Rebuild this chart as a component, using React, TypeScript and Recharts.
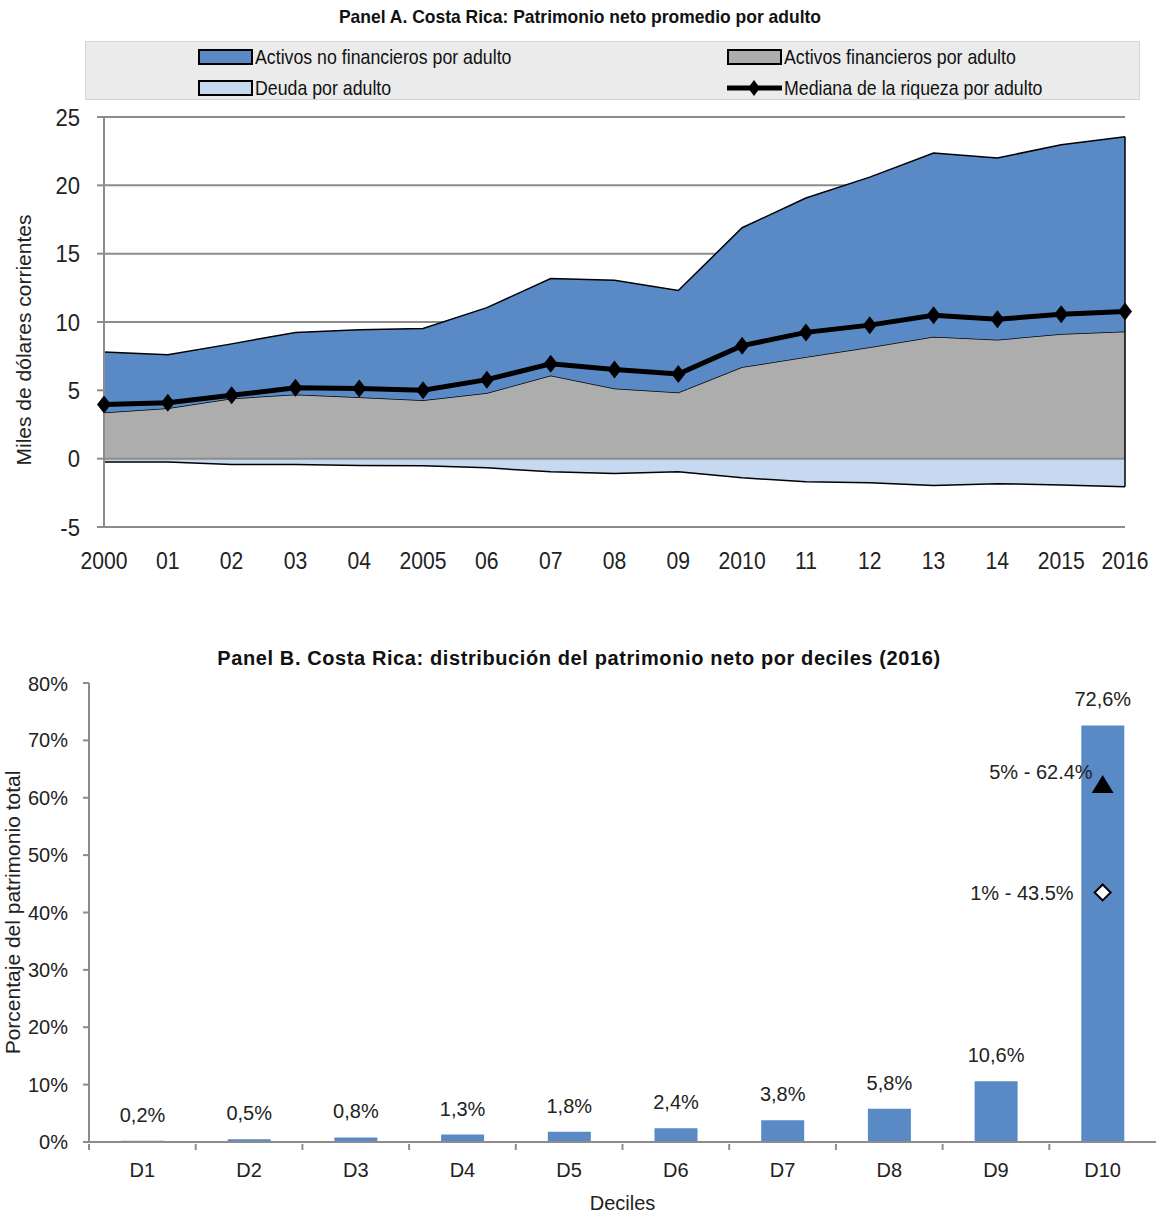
import React from "react";
import {
  ComposedChart,
  Area,
  Line,
  Bar,
  XAxis,
  YAxis,
  CartesianGrid,
  ReferenceLine,
  ReferenceDot,
  LabelList,
} from "recharts";

// Panel A: average net worth per adult (thousands of current USD)
const anios = ["2000", "01", "02", "03", "04", "2005", "06", "07", "08", "09", "2010", "11", "12", "13", "14", "2015", "2016"];
const activosFinancieros = [3.37, 3.68, 4.4, 4.7, 4.5, 4.28, 4.8, 6.09, 5.13, 4.84, 6.7, 7.43, 8.15, 8.92, 8.7, 9.12, 9.31];
const activosNoFinancieros = [4.43, 3.92, 4.0, 4.54, 4.93, 5.25, 6.25, 7.09, 7.92, 7.46, 10.2, 11.64, 12.45, 13.44, 13.3, 13.85, 14.24];
const deuda = [-0.24, -0.25, -0.43, -0.43, -0.5, -0.52, -0.67, -0.96, -1.09, -0.96, -1.4, -1.69, -1.76, -1.96, -1.83, -1.93, -2.05];
const mediana = [3.97, 4.1, 4.64, 5.18, 5.13, 5.0, 5.78, 6.94, 6.53, 6.2, 8.27, 9.24, 9.77, 10.5, 10.2, 10.56, 10.76];
const ticksA = [-5, 0, 5, 10, 15, 20, 25];

// Panel B: share of total net worth by decile, 2016
const deciles = ["D1", "D2", "D3", "D4", "D5", "D6", "D7", "D8", "D9", "D10"];
const participacion = [0.2, 0.5, 0.8, 1.3, 1.8, 2.4, 3.8, 5.8, 10.6, 72.6];
const etiquetas = ["0,2%", "0,5%", "0,8%", "1,3%", "1,8%", "2,4%", "3,8%", "5,8%", "10,6%", "72,6%"];
const topes = [
  { grupo: "5%", valor: 62.4, texto: "5% - 62.4%", forma: "triangulo" },
  { grupo: "1%", valor: 43.5, texto: "1% - 43.5%", forma: "rombo" },
];
const ticksB = [0, 10, 20, 30, 40, 50, 60, 70, 80];

const AZUL = "#5a8ac6";
const GRIS = "#adadad";
const CELESTE = "#c6d9f0";
const LINEA = "#8c8c8c";
const TEXTO = "#222";
const SANS = "'Liberation Sans', Arial, sans-serif";

const dataA = anios.map((anio, i) => ({
  anio,
  fin: activosFinancieros[i],
  nofin: activosNoFinancieros[i],
  deuda: deuda[i],
  mediana: mediana[i],
}));
const ultimo = dataA.length - 1;

const dataB = deciles.map((d, i) => ({ decil: d, valor: participacion[i], etiqueta: etiquetas[i] }));

const Rombo = (props: any) => {
  const { cx, cy, index } = props;
  if (cx == null || cy == null) return <g key={`r-${index}`} />;
  return <path key={`r-${index}`} d={`M${cx},${cy - 9} L${cx + 7},${cy} L${cx},${cy + 9} L${cx - 7},${cy} Z`} fill="#000" />;
};

// condensed text: the chart's lettering is narrower than plain Arial
const Angosto = ({ x, y, anchor, dy, size, children }: any) => (
  <text transform={`translate(${x},${y}) scale(0.92,1)`} textAnchor={anchor} dy={dy} fontFamily={SANS} fontSize={size} fill={TEXTO}>
    {children}
  </text>
);

const TickAnio = (props: any) => (
  <Angosto x={props.x} y={props.y} anchor="middle" dy="0.71em" size={23}>
    {props.payload.value}
  </Angosto>
);

const TickMiles = (props: any) => (
  <Angosto x={props.x} y={props.y} anchor="end" dy="0.355em" size={24}>
    {props.payload.value}
  </Angosto>
);

const Swatch = ({ color }: { color: string }) => (
  <span style={{ display: "inline-block", width: 51, height: 12, background: color, border: "2px solid #000", boxSizing: "content-box", marginRight: 2 }} />
);

const LeyendaItem = ({ left, top, children, text }: any) => (
  <div style={{ position: "absolute", left, top, height: 18, display: "flex", alignItems: "center", fontFamily: SANS, fontSize: 21, color: "#111", whiteSpace: "nowrap" }}>
    {children}
    <span style={{ display: "inline-block", transform: "scaleX(0.845)", transformOrigin: "left center" }}>{text}</span>
  </div>
);

const TickDecil = (props: any) => {
  const { x, y, payload } = props;
  const banda = 106.7;
  return (
    <g>
      <line x1={x - banda / 2} y1={y - 6} x2={x - banda / 2} y2={y} stroke={LINEA} strokeWidth={2} />
      <text x={x} y={y + 13} dy="0.71em" textAnchor="middle" fontFamily={SANS} fontSize={20} fill={TEXTO}>
        {payload.value}
      </text>
    </g>
  );
};

const MarcaTope = (tope: (typeof topes)[number]) => (props: any) => {
  const { cx, cy } = props;
  const marca =
    tope.forma === "triangulo" ? (
      <path d={`M${cx},${cy - 9} L${cx + 11},${cy + 9} L${cx - 11},${cy + 9} Z`} fill="#000" />
    ) : (
      <path d={`M${cx},${cy - 8} L${cx + 8},${cy} L${cx},${cy + 8} L${cx - 8},${cy} Z`} fill="#fff" stroke="#000" strokeWidth={2} />
    );
  const tx = tope.forma === "triangulo" ? cx - 10 : cx - 29;
  const ty = tope.forma === "triangulo" ? cy - 12 : cy;
  return (
    <g>
      {marca}
      <text x={tx} y={ty} dy="0.36em" textAnchor="end" fontFamily={SANS} fontSize={20} fill={TEXTO}>
        {tope.texto}
      </text>
    </g>
  );
};

export default function App() {
  return (
    <div style={{ position: "absolute", left: 0, top: 0, width: 1156, height: 1215, background: "#fff" }}>
      {/* Panel A */}
      <div style={{ position: "absolute", left: 0, top: 6, width: 1160, textAlign: "center", fontFamily: SANS, fontWeight: 700, fontSize: 19, color: "#111" }}>
        <span style={{ display: "inline-block", transform: "scaleX(0.92)" }}>Panel A. Costa Rica: Patrimonio neto promedio por adulto</span>
      </div>
      <div style={{ position: "absolute", left: 85, top: 41, width: 1055, height: 59, background: "#ebebeb", border: "1px solid #d4d4d4", boxSizing: "border-box" }} />
      <LeyendaItem left={198} top={48} text="Activos no financieros por adulto">
        <Swatch color={AZUL} />
      </LeyendaItem>
      <LeyendaItem left={727} top={48} text="Activos financieros por adulto">
        <Swatch color={GRIS} />
      </LeyendaItem>
      <LeyendaItem left={198} top={79} text="Deuda por adulto">
        <Swatch color={CELESTE} />
      </LeyendaItem>
      <LeyendaItem left={727} top={79} text="Mediana de la riqueza por adulto">
        <svg width={55} height={18} style={{ marginRight: 2 }}>
          <line x1={0} y1={9} x2={55} y2={9} stroke="#000" strokeWidth={5} />
          <path d="M27,1 L33,9 L27,17 L21,9 Z" fill="#000" />
        </svg>
      </LeyendaItem>

      <div style={{ position: "absolute", left: 0, top: 100 }}>
        <ComposedChart width={1156} height={490} data={dataA} stackOffset="sign" margin={{ top: 17, right: 31, left: 0, bottom: 0 }}>
          <CartesianGrid horizontal vertical={false} stroke={LINEA} strokeWidth={2} />
          <XAxis
            dataKey="anio"
            scale="point"
            padding={{ left: 0, right: 0 }}
            height={63}
            axisLine={false}
            tickLine={false}
            tickMargin={20}
            interval={0}
            tick={<TickAnio />}
          />
          <YAxis
            domain={[-5, 25]}
            ticks={ticksA}
            width={104}
            axisLine={{ stroke: LINEA, strokeWidth: 2 }}
            tickLine={{ stroke: LINEA, strokeWidth: 2 }}
            tickSize={7}
            tickMargin={17}
            tick={<TickMiles />}
            label={{ value: "Miles de dólares corrientes", angle: -90, position: "center", dx: -28, dy: 18, style: { fontFamily: SANS, fontSize: 21, fill: TEXTO } }}
          />
          <Area type="linear" dataKey="fin" stackId="a" fill={GRIS} fillOpacity={1} stroke="#000" strokeWidth={1.5} isAnimationActive={false} />
          <Area type="linear" dataKey="nofin" stackId="a" fill={AZUL} fillOpacity={1} stroke="#000" strokeWidth={1.5} isAnimationActive={false} />
          <Area type="linear" dataKey="deuda" stackId="a" fill={CELESTE} fillOpacity={1} stroke="#000" strokeWidth={1.5} isAnimationActive={false} />
          <ReferenceLine y={0} stroke={LINEA} strokeWidth={2} />
          {/* closing edge of the stacked areas at the last year */}
          <ReferenceLine
            segment={[
              { x: anios[ultimo], y: deuda[ultimo] },
              { x: anios[ultimo], y: activosFinancieros[ultimo] + activosNoFinancieros[ultimo] },
            ]}
            stroke="#000"
            strokeWidth={1.5}
          />
          <Line type="linear" dataKey="mediana" stroke="#000" strokeWidth={5} dot={Rombo} activeDot={false} isAnimationActive={false} />
        </ComposedChart>
      </div>

      {/* Panel B */}
      <div style={{ position: "absolute", left: 0, top: 647, width: 1158, textAlign: "center", fontFamily: SANS, fontWeight: 700, fontSize: 20, letterSpacing: 0.6, color: "#111" }}>
        Panel B. Costa Rica: distribución del patrimonio neto por deciles (2016)
      </div>
      <div style={{ position: "absolute", left: 0, top: 672 }}>
        <ComposedChart width={1156} height={543} data={dataB} margin={{ top: 11, right: 0, left: 0, bottom: 0 }}>
          <XAxis
            dataKey="decil"
            height={73}
            axisLine={{ stroke: LINEA, strokeWidth: 2 }}
            tickLine={false}
            interval={0}
            tick={<TickDecil />}
            label={{ value: "Deciles", position: "insideBottom", offset: 5, style: { fontFamily: SANS, fontSize: 20, fill: TEXTO } }}
          />
          <YAxis
            domain={[0, 80]}
            ticks={ticksB}
            width={89}
            axisLine={{ stroke: LINEA, strokeWidth: 2 }}
            tickLine={{ stroke: LINEA, strokeWidth: 2 }}
            tickSize={6}
            tickMargin={15}
            tickFormatter={(v: number) => `${v}%`}
            tick={{ fontFamily: SANS, fontSize: 20, fill: TEXTO }}
            label={{ value: "Porcentaje del patrimonio total", angle: -90, position: "center", dx: -32, style: { fontFamily: SANS, fontSize: 21, fill: TEXTO } }}
          />
          <Bar dataKey="valor" fill={AZUL} barSize={43} isAnimationActive={false}>
            <LabelList dataKey="etiqueta" position="top" offset={19} style={{ fontFamily: SANS, fontSize: 20, fill: TEXTO }} />
          </Bar>
          {topes.map((t) => (
            <ReferenceDot key={t.grupo} x="D10" y={t.valor} r={10} shape={MarcaTope(t)} ifOverflow="visible" />
          ))}
        </ComposedChart>
      </div>
    </div>
  );
}
